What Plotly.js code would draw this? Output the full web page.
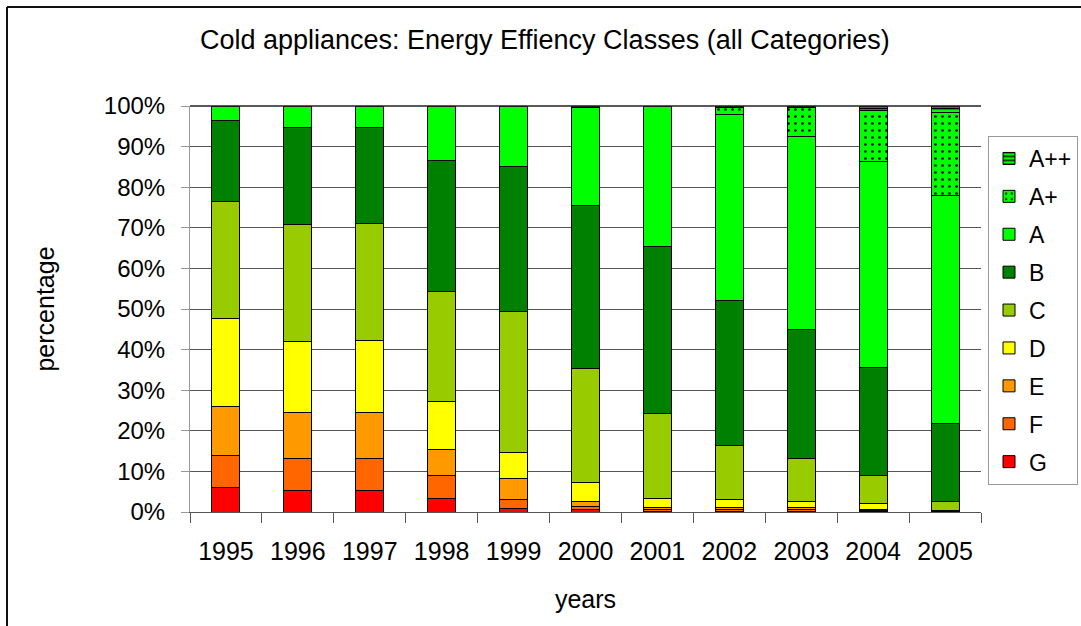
<!DOCTYPE html>
<html>
<head>
<meta charset="utf-8">
<script src="https://cdn.plot.ly/plotly-3.0.1.min.js"></script>
<style>
  html, body { margin: 0; padding: 0; background: #fff; }
  #chart { width: 1081px; height: 626px; }
</style>
</head>
<body>
<div id="chart"></div>
<script>
// ---- data (percent share per year) ----
const years = ['1995','1996','1997','1998','1999','2000','2001','2002','2003','2004','2005'];
const classG   = [6.0, 5.3, 5.3, 3.3, 0.9, 0.6, 0.2, 0.2, 0.2, 0.2, 0.0];
const classF   = [7.9, 7.9, 7.9, 5.8, 2.2, 0.8, 0.3, 0.3, 0.3, 0.2, 0.0];
const classE   = [12.0, 11.2, 11.2, 6.4, 5.1, 1.2, 0.5, 0.5, 0.5, 0.3, 0.1];
const classD   = [21.7, 17.5, 17.8, 11.8, 6.4, 4.7, 2.4, 2.0, 1.6, 1.3, 0.2];
const classC   = [29.0, 28.9, 28.9, 27.1, 34.7, 28.0, 20.8, 13.5, 10.6, 6.9, 2.3];
const classB   = [19.8, 24.0, 23.6, 32.3, 35.9, 40.3, 41.2, 35.7, 31.7, 26.6, 19.1];
const classA   = [3.6, 5.2, 5.3, 13.3, 14.8, 24.0, 34.6, 45.6, 47.5, 50.8, 56.2];
const classAp  = [0, 0, 0, 0, 0, 0.4, 0, 1.9, 7.2, 12.7, 20.5];
const classApp = [0, 0, 0, 0, 0, 0, 0, 0.3, 0.4, 1.0, 1.6];
const yTickVals  = [0, 10, 20, 30, 40, 50, 60, 70, 80, 90, 100];
const yTickTexts = ['0%', '10%', '20%', '30%', '40%', '50%', '60%', '70%', '80%', '90%', '100%'];

const FONT = 'Liberation Sans, Arial, sans-serif';

function bar(name, vals, color, rank, pattern) {
  const marker = { color: color, line: { color: '#000', width: 1 } };
  if (pattern) marker.pattern = pattern;
  return { type: 'bar', name: name, x: years, y: vals, marker: marker,
           legendgroup: name, legendrank: rank, hoverinfo: 'x+y+name' };
}

const traces = [
  bar('G', classG, '#FF0000', 9),
  bar('F', classF, '#FF6600', 8),
  bar('E', classE, '#FF9900', 7),
  bar('D', classD, '#FFFF00', 6),
  bar('C', classC, '#99CC00', 5),
  bar('B', classB, '#008000', 4),
  bar('A', classA, '#00FF00', 3),
  bar('A+', classAp, '#00FF00', 2, { shape: '.', fgcolor: '#000', bgcolor: '#00FF00', fillmode: 'replace', size: 7, solidity: 0.12 }),
  bar('A++', classApp, '#00FF00', 1, { shape: '-', fgcolor: '#000', bgcolor: '#00FF00', fillmode: 'replace', size: 5, solidity: 0.35 })
];

// plot area in pixels
const L = 190, R = 981, T = 106, B = 512, W = 1081, H = 626;
const px = v => (v - L) / (R - L);
const py = v => (B - v) / (B - T);

const layout = {
  width: W, height: H,
  paper_bgcolor: '#fff', plot_bgcolor: '#fff',
  margin: { l: L, r: W - R, t: T, b: H - B, pad: 0, autoexpand: false },
  barmode: 'stack',
  bargap: 0.61,
  font: { family: FONT, size: 24, color: '#000' },
  title: {
    text: 'Cold appliances: Energy Effiency Classes (all Categories)',
    font: { family: FONT, size: 27, color: '#000' },
    x: 0.504, xanchor: 'center', y: 1 - 40 / H, yanchor: 'middle'
  },
  xaxis: {
    type: 'category',
    title: { text: 'years', font: { family: FONT, size: 25 }, standoff: 26 },
    tickfont: { family: FONT, size: 25 },
    ticks: 'outside', tickson: 'boundaries', ticklen: 10, tickcolor: '#555', tickwidth: 1,
    ticklabelstandoff: 17,
    showline: true, linecolor: '#555', linewidth: 1,
    showgrid: false, zeroline: false,
    fixedrange: true
  },
  yaxis: {
    range: [0, 100],
    tickmode: 'array', tickvals: yTickVals, ticktext: yTickTexts,
    title: { text: 'percentage', font: { family: FONT, size: 25 }, standoff: 42 },
    tickfont: { family: FONT, size: 24 },
    ticks: 'outside', ticklen: 8, tickcolor: '#999', tickwidth: 1,
    ticklabelstandoff: 11,
    showline: true, linecolor: '#999', linewidth: 1,
    showgrid: true, gridcolor: '#555', gridwidth: 1,
    zeroline: false,
    fixedrange: true
  },
  legend: {
    x: px(988), xanchor: 'left', y: py(136), yanchor: 'top',
    traceorder: 'grouped',
    bordercolor: '#999', borderwidth: 1, bgcolor: '#fff',
    font: { family: FONT, size: 23, color: '#000' },
    tracegroupgap: 5,
    itemwidth: 30
  },
  shapes: [
    { type: 'line', xref: 'paper', yref: 'paper', x0: px(7), x1: px(7), y0: py(7), y1: py(H + 5), line: { color: '#111', width: 2 } },
    { type: 'line', xref: 'paper', yref: 'paper', x0: px(7), x1: px(W + 5), y0: py(7), y1: py(7), line: { color: '#111', width: 2 } },
    { type: 'line', xref: 'paper', yref: 'paper', x0: 0, x1: 1, y0: 1, y1: 1, line: { color: '#222', width: 1.5 } }
  ]
};

Plotly.newPlot('chart', traces, layout, { displayModeBar: false, staticPlot: true });
</script>
</body>
</html>
